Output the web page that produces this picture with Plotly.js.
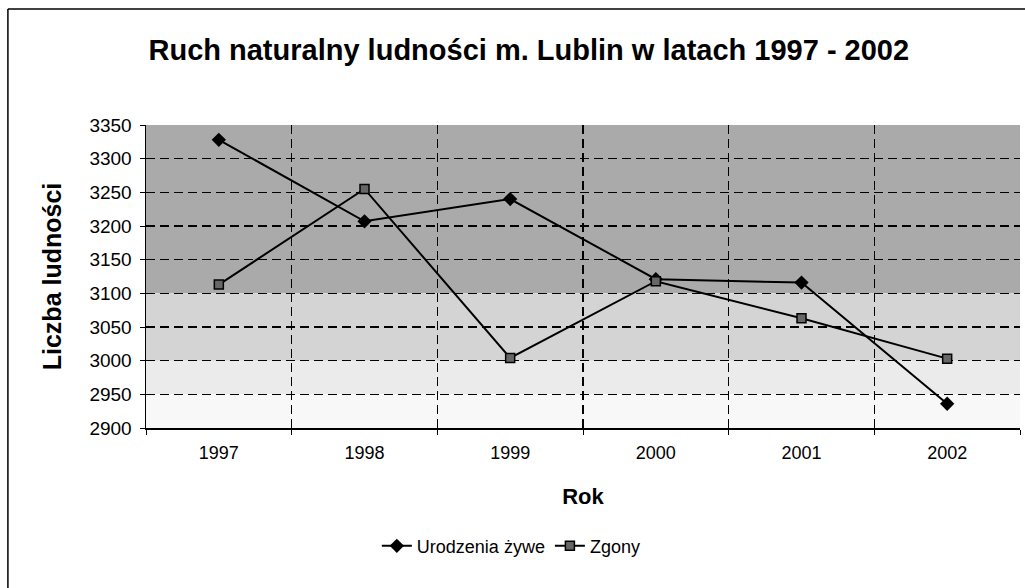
<!DOCTYPE html>
<html>
<head>
<meta charset="utf-8">
<script src="https://cdn.plot.ly/plotly-3.0.1.min.js"></script>
<style>html,body{margin:0;padding:0;background:#fff;}#chart{width:1025px;height:588px;}</style>
</head>
<body>
<div id="chart"></div>
<script>
const years = ["1997", "1998", "1999", "2000", "2001", "2002"];
const urodzenia = [3328, 3207, 3240, 3121, 3116, 2936];
const zgony = [3113, 3255, 3004, 3118, 3063, 3003];
const yTicks = [2900, 2950, 3000, 3050, 3100, 3150, 3200, 3250, 3300, 3350];

const font = "Liberation Sans, Arial, sans-serif";

const traces = [
  {
    x: years, y: urodzenia, name: "Urodzenia żywe", type: "scatter", mode: "lines+markers",
    line: {color: "#000", width: 2},
    marker: {symbol: "diamond", size: 11, color: "#000"}
  },
  {
    x: years, y: zgony, name: "Zgony", type: "scatter", mode: "lines+markers",
    line: {color: "#000", width: 2},
    marker: {symbol: "square", size: 9, color: "#666", line: {color: "#000", width: 1.5}}
  }
];

const bands = [
  {y0: 3100, y1: 3350, c: "#aaaaaa"},
  {y0: 3000, y1: 3100, c: "#d4d4d4"},
  {y0: 2950, y1: 3000, c: "#ebebeb"},
  {y0: 2900, y1: 2950, c: "#f8f8f8"}
];

const shapes = bands.map(b => ({
  type: "rect", xref: "x domain", yref: "y", x0: 0, x1: 1, y0: b.y0, y1: b.y1,
  fillcolor: b.c, line: {width: 0}, layer: "below"
}));
// outer frame (top and left edges)
shapes.push({type: "line", xref: "paper", yref: "paper", x0: -0.158, x1: 1.006, y0: 1.383, y1: 1.383,
             line: {color: "#000", width: 1.5}});
shapes.push({type: "line", xref: "paper", yref: "paper", x0: -0.158, x1: -0.158, y0: 1.383, y1: -0.53,
             line: {color: "#000", width: 1.5}});

const layout = {
  width: 1025, height: 588,
  margin: {l: 146, r: 5, t: 125, b: 160},
  paper_bgcolor: "#fff", plot_bgcolor: "rgba(0,0,0,0)",
  font: {family: font, color: "#000", size: 18},
  title: {text: "<b>Ruch naturalny ludności m. Lublin w latach 1997 - 2002</b>",
          x: 0.438, xref: "paper", xanchor: "center", y: 0.915, yanchor: "middle",
          font: {family: font, size: 29, color: "#000"}},
  showlegend: true,
  legend: {orientation: "h", x: 0.418, xanchor: "center", y: -0.39, yanchor: "middle",
           font: {family: font, size: 18}, bgcolor: "rgba(0,0,0,0)", itemwidth: 30},
  xaxis: {
    type: "category", tickson: "boundaries", showgrid: true, gridcolor: "#000",
    griddash: "9px,5px", gridwidth: 1.3,
    showline: true, linecolor: "#000", linewidth: 1.5,
    ticks: "outside", ticklen: 5, tickcolor: "#000",
    tickfont: {family: font, size: 18}, range: [-0.5, 5.5], ticklabelstandoff: 8,
    title: {text: "<b>Rok</b>", font: {family: font, size: 22}, standoff: 26}
  },
  yaxis: {
    range: [2900, 3350], tickvals: yTicks, showgrid: true, gridcolor: "#000",
    griddash: "9px,5px", gridwidth: 1.3, zeroline: false,
    showline: true, linecolor: "#000", linewidth: 1.5,
    ticks: "outside", ticklen: 5, tickcolor: "#000",
    tickfont: {family: font, size: 19}, ticklabelstandoff: 4,
    title: {text: "<b>Liczba ludności</b>", font: {family: font, size: 25}, standoff: 20}
  },
  shapes: shapes
};

Plotly.newPlot("chart", traces, layout, {displayModeBar: false, staticPlot: true});
</script>
</body>
</html>
